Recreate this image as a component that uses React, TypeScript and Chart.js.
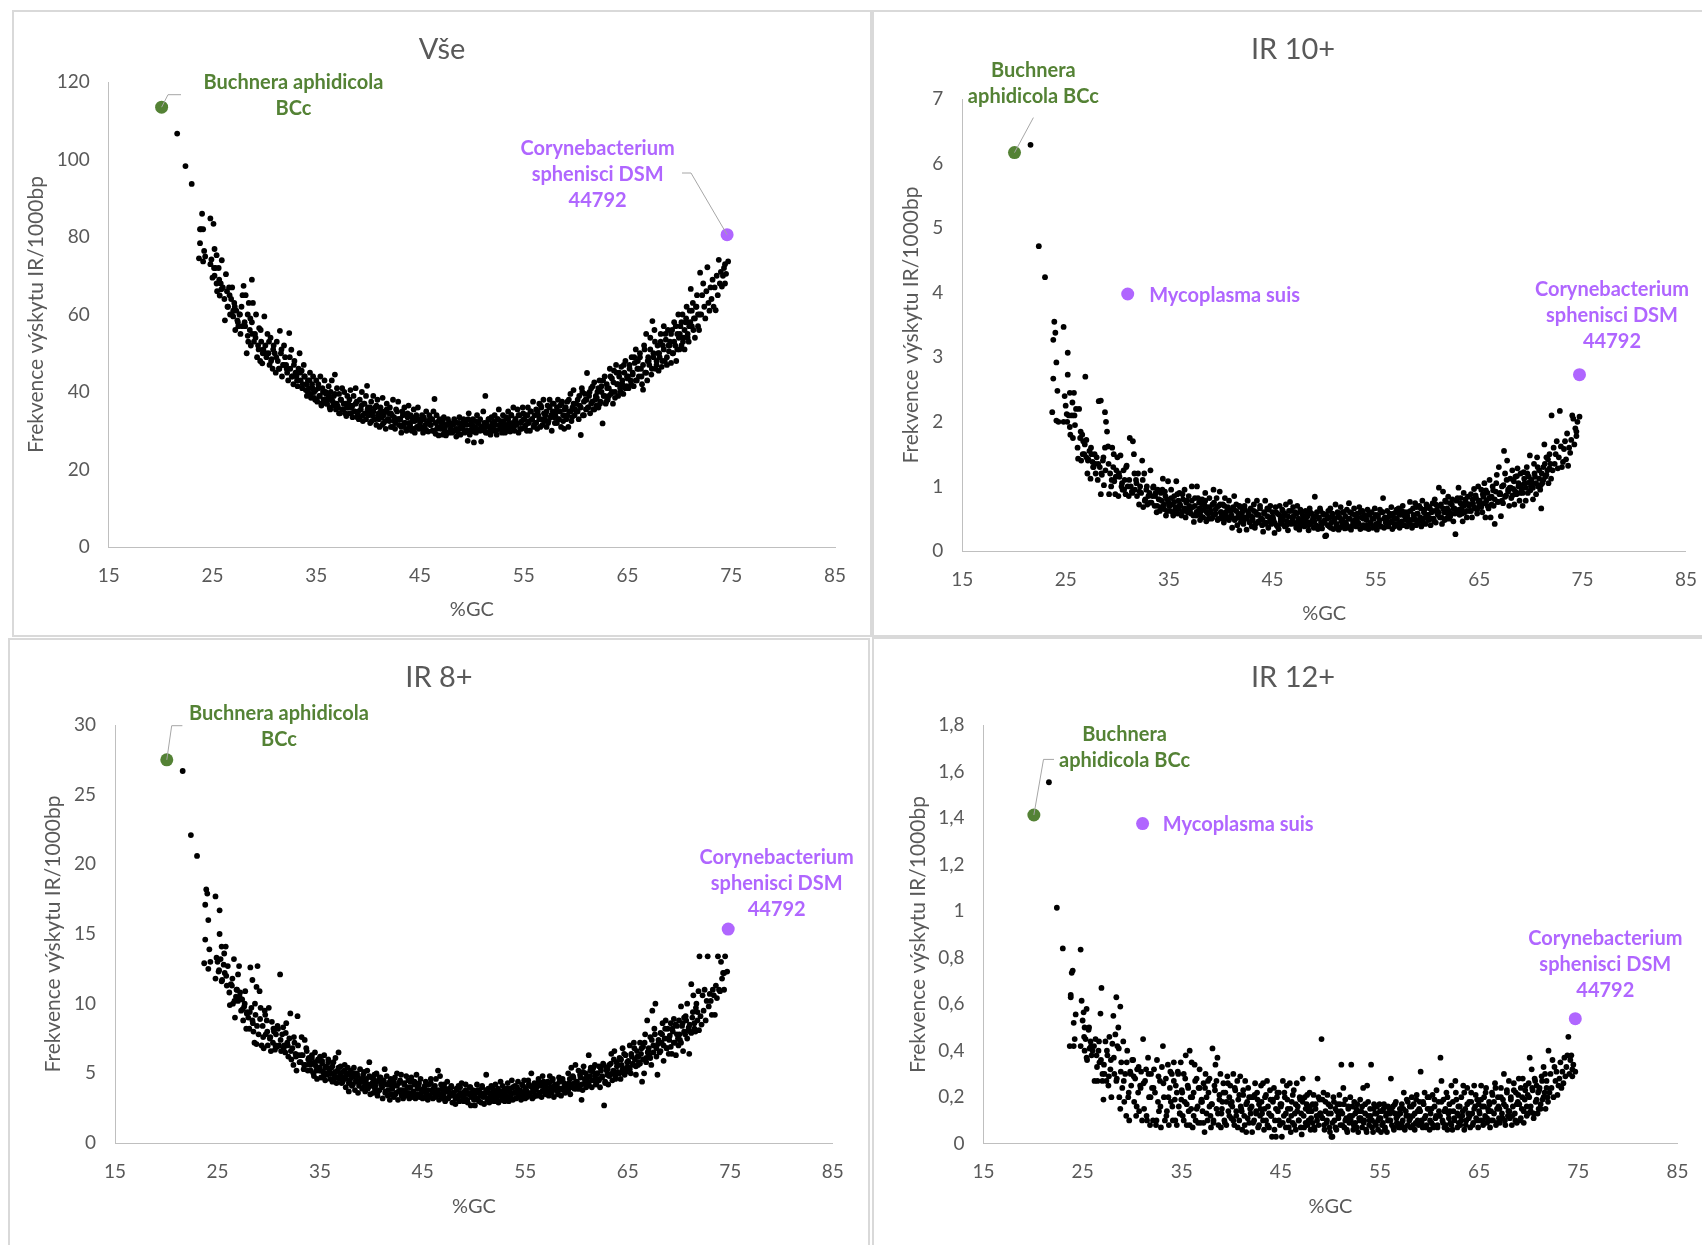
import React, { useEffect, useRef } from "react";
import { Chart, registerables } from "chart.js";

Chart.register(...registerables);

const gc = [
21.6,22.4,23,
23.7,23.8,23.8,23.9,24,24.1,24.1,24.2,24.3,24.8,24.8,24.9,
25,25.1,25.2,25.2,25.3,25.4,25.4,25.6,25.7,25.8,25.9,26,
26.2,26.3,26.4,26.5,26.6,26.7,26.8,26.9,27,27,
27.1,27.2,27.3,27.4,27.5,27.6,27.7,27.8,27.9,28,
28.1,28.2,28.3,28.4,28.4,28.5,28.6,28.7,28.8,28.8,28.9,29,
29.1,29.2,29.3,29.4,29.5,29.6,29.7,29.8,29.9,30,
30.1,30.2,30.3,30.4,30.5,30.6,30.7,30.8,30.9,31,
31.1,31.2,31.3,31.4,31.5,31.6,31.7,31.8,31.9,32,
32.1,32.2,32.3,32.4,32.5,32.6,32.7,32.8,32.9,33,
33.1,33.2,33.3,33.4,33.5,33.6,33.7,33.8,33.9,34,
34.1,34.2,34.3,34.4,34.5,34.6,34.7,34.8,34.9,35,
35.1,35.2,35.3,35.4,35.5,35.6,35.7,35.8,35.9,36,
36.1,36.2,36.3,36.4,36.5,36.6,36.7,36.8,36.9,37,
37.1,37.2,37.3,37.4,37.5,37.6,37.7,37.8,37.9,38,
38.1,38.2,38.3,38.4,38.5,38.6,38.7,38.8,38.9,39,
39.1,39.2,39.3,39.4,39.5,39.6,39.7,39.8,39.9,40,
40.1,40.2,40.3,40.4,40.5,40.6,40.7,40.8,40.9,41,
41.1,41.2,41.3,41.4,41.5,41.6,41.7,41.8,41.9,42,
42.1,42.2,42.3,42.4,42.5,42.6,42.7,42.8,42.9,43,
43.1,43.2,43.3,43.4,43.5,43.6,43.7,43.8,43.9,44,
44.1,44.2,44.3,44.4,44.5,44.6,44.7,44.8,44.9,45,
45.1,45.2,45.3,45.4,45.5,45.6,45.7,45.8,45.9,46,
46.1,46.2,46.3,46.4,46.5,46.6,46.7,46.8,46.9,47,
47.1,47.2,47.3,47.4,47.5,47.6,47.7,47.8,47.9,48,
48.1,48.2,48.3,48.4,48.5,48.6,48.7,48.8,48.9,49,
49.1,49.2,49.3,49.4,49.5,49.6,49.7,49.8,49.9,50,
50.1,50.2,50.3,50.4,50.5,50.6,50.7,50.8,50.9,51,
51.1,51.2,51.3,51.4,51.5,51.6,51.7,51.8,51.9,52,
52.1,52.2,52.3,52.4,52.5,52.6,52.7,52.8,52.9,53,
53.1,53.2,53.3,53.4,53.5,53.6,53.7,53.8,53.9,54,
54.1,54.2,54.3,54.4,54.5,54.6,54.7,54.8,54.9,55,
55.1,55.2,55.3,55.4,55.5,55.6,55.7,55.8,55.9,56,
56.1,56.2,56.3,56.4,56.5,56.6,56.7,56.8,56.9,57,
57.1,57.2,57.3,57.4,57.5,57.6,57.7,57.8,57.9,58,
58.1,58.2,58.3,58.4,58.5,58.6,58.7,58.8,58.9,59,
59.1,59.2,59.3,59.4,59.5,59.6,59.7,59.8,59.9,60,
60.1,60.2,60.3,60.4,60.5,60.6,60.7,60.8,60.9,61,
61.1,61.2,61.3,61.4,61.5,61.6,61.7,61.8,61.9,62,
62.1,62.2,62.3,62.4,62.5,62.6,62.7,62.8,62.9,63,
63.1,63.2,63.3,63.4,63.5,63.6,63.7,63.8,63.9,64,
64.1,64.2,64.3,64.4,64.5,64.6,64.7,64.8,64.9,65,
65.1,65.2,65.3,65.4,65.5,65.6,65.7,65.8,65.9,66,
66.1,66.2,66.3,66.4,66.5,66.6,66.7,66.8,66.9,67,
67.1,67.2,67.3,67.4,67.5,67.6,67.7,67.8,67.9,68,
68.1,68.2,68.3,68.4,68.5,68.6,68.7,68.8,68.9,69,
69.1,69.2,69.3,69.4,69.5,69.6,69.7,69.8,69.9,70,
70.1,70.2,70.3,70.4,70.5,70.6,70.7,70.8,70.9,71,
71.1,71.2,71.3,71.4,71.5,71.6,71.7,71.8,71.9,72,
72.1,72.2,72.3,72.4,72.5,72.6,72.7,72.8,72.9,73,
73.1,73.2,73.3,73.4,73.5,73.6,73.7,73.8,73.9,74,
74.1,74.2,74.3,74.4,74.4,74.5,74.7,
25.15,25.45,25.65,25.85,
26.15,26.45,26.65,26.85,
27.15,27.45,27.65,27.85,
28.15,28.45,28.65,28.85,
29.15,29.45,29.65,29.85,
30.15,30.45,30.65,30.85,
31.15,31.45,31.65,31.85,
32.15,32.45,32.65,32.85,
33.15,33.45,33.65,33.85,
34.05,34.2,34.35,34.5,34.65,34.8,34.95,
35.05,35.2,35.35,35.5,35.65,35.8,35.95,
36.05,36.2,36.35,36.5,36.65,36.8,36.95,
37.05,37.2,37.35,37.5,37.65,37.8,37.95,
38.05,38.2,38.35,38.5,38.65,38.8,38.95,
39.05,39.2,39.35,39.5,39.65,39.8,39.95,
40.05,40.2,40.35,40.5,40.65,40.8,40.95,
41.05,41.2,41.35,41.5,41.65,41.8,41.95,
42.05,42.2,42.35,42.5,42.65,42.8,42.95,
43.05,43.2,43.35,43.5,43.65,43.8,43.95,
44.05,44.2,44.35,44.5,44.65,44.8,44.95,
45.05,45.2,45.35,45.5,45.65,45.8,45.95,
46.05,46.2,46.35,46.5,46.65,46.8,46.95,
47.05,47.2,47.35,47.5,47.65,47.8,47.95,
48.05,48.2,48.35,48.5,48.65,48.8,48.95,
49.05,49.2,49.35,49.5,49.65,49.8,49.95,
50.05,50.2,50.35,50.5,50.65,50.8,50.95,
51.05,51.2,51.35,51.5,51.65,51.8,51.95,
52.05,52.2,52.35,52.5,52.65,52.8,52.95,
53.05,53.2,53.35,53.5,53.65,53.8,53.95,
54.05,54.2,54.35,54.5,54.65,54.8,54.95,
55.05,55.2,55.35,55.5,55.65,55.8,55.95,
56.05,56.2,56.35,56.5,56.65,56.8,56.95,
57.05,57.2,57.35,57.5,57.65,57.8,57.95,
58.05,58.2,58.35,58.5,58.65,58.8,58.95,
59.05,59.2,59.35,59.5,59.65,59.8,59.95,
60.05,60.2,60.35,60.5,60.65,60.8,60.95,
61.05,61.2,61.35,61.5,61.65,61.8,61.95,
62.05,62.2,62.35,62.5,62.65,62.8,62.95,
63.05,63.2,63.35,63.5,63.65,63.8,63.95,
64.05,64.2,64.35,64.5,64.65,64.8,64.95,
65.05,65.2,65.35,65.5,65.65,65.8,65.95,
66.05,66.2,66.35,66.5,66.65,66.8,66.95,
67.05,67.2,67.35,67.5,67.65,67.8,67.95,
68.05,68.2,68.35,68.5,68.65,68.8,68.95,
69.05,69.2,69.35,69.5,69.65,69.8,69.95,
70.05,70.2,70.35,70.5,70.65,70.8,70.95,
71.05,71.2,71.35,71.5,71.65,71.8,71.95,
];

const irAll = [
106.7,98.3,93.7,
74.5,78.4,82,82,86,82,73.7,76.4,75,84.8,73,74.2,
69.5,83.4,76.9,70,72,75.3,68,72,64.9,68,74,67,
58.5,70.4,66,62,67,60,64,67,61,59.5,
63,56,61,58.5,57,60,55,62,65,67.4,
58,65,50,60,54.5,63,56,52,69,58,63,53,
55,60,49,52,56.5,48,53,47.4,51,59.5,
52,49,55,50,47,54,48.5,46,52,50,
45,53,48,46,55.8,50,44,47,52,49,
47,45,43,55.2,46,50.9,44,42,48,45,
44,41.5,46,50,43,45.5,42,47,44,40.5,
39,43,41,45,38.5,42,44,40,38,43,
37.5,42,39,44,36.5,41,38,43,40,37,
38,41.5,36,40,43,37.5,39,44.5,35.5,41,
36,39.5,34.5,38,41,35.5,40,37,33.8,39,
37,34.5,40.5,36,33.5,39,35,41,37.5,34,
33,38,35.5,40,32.5,37,34.5,39,41.6,36,
35,32,37.5,34,39,33,36,31.5,38,34.5,
31,36,33.5,38.5,32,35,30.5,37,33,34.5,
36,31,34,38,32.5,30.5,35.5,33,37.5,31.5,
33,29.5,35,31.5,36,32,30,34.5,36.5,31,
34,30,32.5,35.5,29.5,33,31,36,30.5,32,
31,34,29.5,33,30.5,35,32,29.8,34,31.5,
33,30,35,38.2,29.2,34,31,28.8,33,30.5,
32,29,33.5,30.5,28.8,31.5,33,29.5,32,30,
29.5,31.5,33,30,28.5,32,30.5,33.5,29,31,
31,33,29.5,32,30,27.4,34.5,29,32.5,30.5,
33,27,31,29.5,34,32,30.5,33,27.2,31,
35,30,39,32,29.5,33,31,29,33.5,31.5,
30,34,31.5,29,33,35.5,30.5,32.5,29.5,34,
31,29.5,33.5,30,35,32,29.8,34,31,36,
30,33,31.5,35.5,29.5,34,32,30.5,36,33,
31,34,30,36,32.5,30,35,33,37.5,31.5,
32,35.5,30.5,34,37,31,36,33,38,32.5,
34,31,36.5,32.5,38,33.5,30,35,37,32,
35,32,38,33,36.5,31,37.5,34,30.5,36,
33,37.5,31,35,39.5,32.5,36,40.5,34,37,
35,38,33,36.5,28.9,41,34,37.5,39.5,35.5,
44.9,36,39,34.5,41,37.5,35.5,42.5,38,36.5,
40,36,43,37.5,41.5,31.9,39,44,37,42,
38,41,46,39.5,43.5,37,45.5,40,47,42,
39,44,41,46.5,42,39.5,45,48,41.5,43.5,
41,46,43,49,44.5,41.5,47.5,51,43,48,
44,50,46,42,40.6,52,45,55,43,49,
47,54,44.5,58.3,50,56,46,48,52,45.5,
49,55,46.5,52,57,48,53.5,47,56,50.5,
53,47.5,56,50,58,52,48,55,60,51,
57,52,60,54,51,58,62,55,53,61,
66.6,57,63,59,54,62,65,60,56,70.8,
60,65,68,62,59,66,72.2,63,61,67,
64,69,62,67,61.1,70,65,74.1,68,71,
67.2,70,72,68,73,70.5,73.7,
72,66,69,66.5,
64,62,65,60,
62,58,60,57,
57,53,59,55,
54,51,56,50,
50,53,48,51,
49,46,51,47,
46,49,44,47,
43,45,41,44,
42,40,43,39.5,41,38.5,40.5,
38,41,39,37,40,38,39.5,
37,39,35.5,38,36.5,39.5,37,
36.5,34.5,38,35.5,37,34.5,36,
36,38,34.5,36.5,35,37,33.5,
35,33.5,36.5,34,37,33,35.5,
34,36,32.5,35,33,36.5,34,
33,35,31.5,34,32.5,35.5,33,
32.5,34.5,31,33.5,32,35,33,
33,31,34,32,30.5,33.5,32,
31.5,33.5,30.5,32.5,34,31,33,
32.5,30.5,33.5,31.5,30,32,33,
31.5,33,30,32,30.5,32.5,31,
31,32.5,30,31.5,29.5,32,30.5,
31.5,30,32.5,30.5,29.8,32,31,
30.5,32,29.8,31.5,33,30,31.5,
31.5,29.8,32.5,30.5,32,30,31,
30.5,32,29.5,31,33,30,32,
31,32.5,30,33,31.5,30.5,32,
32.5,30.5,31.5,33,31,34,32,
31,33,32,34,30.5,32.5,34.5,
33,31.5,34,32,35,33,31,
34,32,35,33,36.5,31.5,34.5,
33,35,32,36,34,37,33.5,
34,36,33,35,37,32.5,35.5,
36,34,38,35,33.5,37,35.5,
37,35,39,36,40,34,38,
38,36,40,37,41.5,35.5,39,
38.5,41,37,40,43,39,37.5,
41,39,44,40,42.5,38.5,45,
42,45,40,43,47,41,44,
44,47,42,45,49,43,46,
46,49,44,47,51,45,48,
48,51,46,49,53,47,50,
50,53,48,51,55,49,52,
52,55,50,53,57,51,54,
55,58,53,56,59,54,57,
58,61,56,59,62,57,60,
];

const ir10 = [
6.29,4.72,4.24,
2.15,3.27,2.67,3.55,3.38,2.92,2.02,2.48,2.0,3.47,2.0,2.4,
2.25,2.12,3.07,2.73,2.1,2.45,1.92,2.1,1.75,2.45,1.95,2.2,
1.43,2.2,1.75,1.4,1.8,1.7,1.5,2.7,1.72,1.45,
1.2,1.42,1.55,1.12,1.5,1.38,1.3,1.5,1.2,1.45,
1.1,2.32,1.3,2.33,.88,1.18,1.4,1.02,2.15,1.6,2.0,1.85,
1.62,.88,1.2,1.0,1.6,1.3,1.08,.88,1.25,1.45,
.85,1.15,1.48,1.0,.95,1.25,1.1,.88,1.32,1.0,
.85,1.75,1.0,.92,1.7,1.5,.95,1.1,.85,1.2,
.72,1.0,.9,1.4,.68,1.2,.8,.95,.72,.85,
.9,1.25,.75,.85,1.0,.7,.9,.6,.95,.8,
.62,.9,.78,1.12,.65,.92,.55,.8,1.08,.7,
.62,.95,.72,.55,.85,.65,1.08,.58,.78,.9,
.7,.55,.88,.62,.95,.52,.78,.65,.85,.6,
.58,1.0,.68,.45,.82,.55,1.0,.62,.75,.48,
.62,.8,.52,.72,.9,.46,.68,.58,.82,.6,
.5,.72,.95,.56,.65,.82,.48,.7,.92,.6,
.55,.72,.44,.82,.6,.5,.68,.78,.52,.62,
.36,.65,.85,.5,.72,.4,.58,.32,.68,.5,
.62,.42,.7,.52,.33,.78,.55,.45,.66,.38,
.48,.72,.36,.6,.78,.44,.56,.7,.5,.4,
.3,.58,.78,.44,.66,.36,.52,.7,.42,.6,
.48,.28,.68,.4,.58,.34,.7,.5,.42,.62,
.55,.38,.72,.46,.32,.62,.76,.42,.52,.68,
.44,.6,.36,.7,.5,.33,.64,.42,.56,.48,
.38,.62,.46,.54,.32,.66,.42,.58,.48,.36,
.84,.4,.6,.34,.52,.66,.44,.35,.58,.47,
.23,.24,.5,.62,.38,.66,.44,.56,.34,.5,
.72,.4,.6,.33,.52,.68,.38,.48,.6,.35,
.44,.64,.36,.74,.5,.33,.58,.42,.66,.48,
.38,.58,.44,.68,.34,.52,.62,.4,.56,.36,
.48,.64,.34,.56,.42,.6,.36,.5,.66,.4,
.33,.54,.44,.64,.38,.6,.82,.36,.52,.46,
.62,.38,.54,.44,.68,.34,.58,.42,.5,.64,
.42,.66,.36,.56,.46,.7,.4,.6,.5,.38,
.6,.42,.76,.48,.36,.66,.52,.74,.4,.58,
.44,.7,.52,.38,.78,.5,.64,.42,.72,.56,
.48,.68,.4,.6,.74,.5,.8,.44,.64,.56,
.98,.52,.72,.42,.92,.6,.78,.5,.66,.84,
.5,.74,.58,.8,.46,.66,.26,.62,.82,.98,
.56,.82,.66,.46,.9,.6,.76,.52,.84,.7,
.62,.88,.52,.74,.96,.66,.82,.58,1.0,.7,
.72,.95,.6,.84,1.05,.52,.78,.9,.66,1.1,
.52,.84,1.0,.7,.42,.92,1.18,.76,1.3,.9,
.54,1.0,.74,1.55,1.2,.86,1.4,.95,.7,1.12,
.82,1.25,.96,.72,1.15,.88,1.28,1.05,.78,1.2,
.95,.7,1.22,1.05,.78,1.3,.9,1.15,1.48,1.0,
1.05,.8,1.35,1.15,.88,1.45,1.0,1.25,.95,.66,
1.05,1.3,1.65,1.15,1.45,1.25,1.05,1.5,1.35,2.1,
1.25,1.6,1.35,1.5,1.7,1.28,1.45,2.17,1.62,1.3,
1.38,1.58,1.7,1.42,1.82,1.32,1.6,1.52,1.72,2.1,
2.05,1.65,1.9,1.85,1.78,2.0,2.08,
2.0,1.8,2.3,2.1,
1.6,1.85,1.5,1.65,
1.4,1.6,1.3,1.35,
1.35,1.2,1.45,1.25,
1.35,1.1,1.5,1.15,
1.2,1.05,.95,1.3,
1.1,.9,1.2,1.05,
.92,1.1,.78,1.0,
.75,.98,.85,.7,
.8,.68,.95,.72,.85,.62,.75,
.7,.82,.6,.76,.68,.88,.65,
.72,.58,.8,.66,.75,.6,.7,
.65,.78,.55,.7,.6,.82,.66,
.55,.72,.64,.78,.6,.5,.68,
.62,.52,.75,.58,.68,.5,.72,
.6,.5,.7,.56,.66,.48,.62,
.55,.68,.48,.62,.52,.7,.45,
.58,.46,.64,.5,.6,.44,.54,
.52,.62,.42,.56,.46,.66,.5,
.48,.6,.42,.54,.64,.46,.5,
.52,.44,.6,.38,.56,.46,.64,
.48,.58,.4,.54,.44,.62,.5,
.54,.42,.58,.46,.38,.6,.5,
.5,.42,.56,.4,.6,.46,.52,
.46,.54,.38,.5,.62,.42,.56,
.44,.56,.4,.52,.36,.58,.48,
.5,.42,.56,.36,.46,.6,.44,
.54,.4,.5,.6,.38,.46,.56,
.46,.52,.42,.6,.36,.5,.54,
.52,.4,.58,.44,.5,.38,.56,
.42,.56,.48,.38,.6,.5,.44,
.5,.42,.58,.46,.54,.38,.6,
.5,.58,.44,.62,.4,.54,.48,
.54,.46,.62,.4,.56,.48,.68,
.58,.48,.66,.46,.6,.52,.7,
.56,.66,.5,.62,.46,.72,.58,
.6,.7,.52,.66,.48,.76,.58,
.62,.54,.72,.66,.58,.78,.6,
.64,.74,.58,.7,.8,.62,.72,
.72,.62,.8,.68,.86,.64,.76,
.78,.68,.88,.74,.94,.7,.82,
.82,.72,.94,.8,1.05,.76,.88,
.88,.78,1.02,.84,1.1,.92,.98,
.98,.86,1.08,.92,1.16,1.0,.9,
1.02,.9,1.12,.98,1.2,1.06,.94,
1.1,.98,1.2,1.05,1.3,1.12,1.02,
1.2,1.1,1.35,1.18,1.42,1.28,1.12,
];

const ir8 = [
26.7,22.1,20.6,
12.9,14.6,17.1,18.2,17.9,16,12.5,13.9,13,17.7,11.8,13.3,
13,12.3,16.7,15,13.2,14.1,11.6,12.8,12.2,14.1,11.3,12.7,
9.9,11.4,11.3,10,13.2,9,10.5,11,12.1,10.2,
12.7,10.8,9.5,10.3,8.8,9.8,10.9,8.2,9.4,9,
8.2,12.6,9.7,8.8,11.7,8,7.2,9.2,11.2,7.1,12.7,7.8,
10.9,9.7,7,8.4,6.8,9.5,7.8,8.8,7,9.7,
7.5,6.6,8.7,7.2,8,6.7,7.8,6.9,8.2,7,
12.1,6.6,7.8,8.3,7,6.5,8.6,7.2,6.2,7.5,
9.3,6,6.8,5.6,7.2,6.4,5.2,9.1,6.3,5.8,
5.8,7.6,6.3,5.3,7.4,5.6,6.6,5.2,6.1,5.8,
5.2,6.3,5.7,4.8,6.5,5.5,4.6,5.9,5.2,6.2,
4.7,5.9,5.1,6.3,4.5,5.5,4.9,6,5.3,4.6,
5.4,4.4,5.8,4.8,6.1,4.3,5.2,6.5,4.6,5.5,
4.3,5.1,4.7,5.6,4,4.9,5.4,3.7,4.5,5.2,
4.1,4.8,5.4,3.8,4.5,5,3.6,4.3,5.3,4.6,
3.9,4.6,5.1,3.7,4.3,5.2,4,5.8,3.5,4.7,
4.3,3.6,4.9,4.1,5,3.4,4.5,3.8,4.7,4.2,
3.2,4.4,5.3,3.7,4.8,3.4,4.2,3.1,4.6,3.9,
4.1,3.3,4.7,3.6,5,3.1,4.3,3.8,4.9,3.5,
3.2,4.2,3.7,4.8,3.4,4.5,3.2,4,4.7,3.5,
3.7,4.4,3.2,4.9,3.5,4.1,3.3,4.6,3.8,3.2,
3.9,3.3,4.4,3.6,3.1,4.2,3.4,4.6,3.8,3.2,
4,3.3,4.6,3.6,5.2,3.1,4.8,3.4,3.9,3.2,
4.2,3,3.7,4.4,3.2,3.9,3.4,4.1,2.9,3.6,
3.4,2.8,3.9,3.2,4.1,3,3.6,4.3,3.3,3,
3.7,4.2,3.1,2.9,3.5,4,2.7,3.3,3.8,3.1,
2.7,3.6,4.2,3.1,3.8,3.4,2.9,4.1,3.3,2.8,
3.6,4.9,3.1,3.9,2.9,3.5,4.1,3.2,3.7,3,
4.2,3.3,3.8,2.9,3.6,4.4,3.1,4.1,3.4,3,
3.7,3.2,4.3,3,3.9,3.4,4.5,3.1,3.6,4.1,
3.2,3.9,4.4,3.3,3.7,3.1,4.2,3.5,4.5,3.2,
3.8,3.3,4.5,3.5,4.1,5,3.2,3.7,4.3,3.4,
4,3.4,4.6,3.6,4.3,3.3,4.8,3.8,4.2,3.5,
3.7,4.4,3.4,4.8,4,3.6,4.6,3.3,4.2,3.8,
4.2,3.5,4.7,3.9,3.4,4.5,3.8,4.3,3.6,4,
3.7,5,4.3,3.5,5.4,4,4.7,3.9,5.6,4.4,
4.1,5.2,3.9,4.7,3.1,3.8,5.5,4.3,5,4.5,
4.3,6.3,4.8,5.4,4,5.1,4.5,5.6,4.2,5,
4.6,5.5,4,5.2,4.8,5.7,2.7,4.4,5.4,4.9,
4.2,5.6,4.9,6.4,4.5,5.2,6.6,4.8,5.8,5.1,
5,6.1,4.6,5.6,6.8,5.2,4.9,6.3,5.4,5.8,
5.4,7,5,6.2,5.7,7.2,6,4.9,6.6,5.6,
5.8,7.2,6.4,4.4,6.9,5,7.8,6.1,8.8,6.6,
6.3,7.6,5.6,9.5,7,8.2,10,6.8,4.9,7.4,
6.5,7.9,7.2,8.6,5.9,7.5,8.8,6.8,8.2,6.4,
7.7,8.6,6.4,8,8.9,7.2,6.3,8.4,7.5,8.8,
7.4,9.8,8.4,6.6,9,7.8,8.8,10,8.1,6.4,
8,11.4,9,10.6,8.6,8,10,9.4,10.9,13.4,
9.1,8.5,10.6,9.5,11,8.8,10.2,13.4,9.8,10.7,
10.2,9.2,11,10.6,9.2,11.3,10.4,13.4,11,10.9,
13,11.8,12.2,11,12.2,13.4,12.3,
12.4,11.7,13.6,12,
10.8,11.8,10.2,11,
10.5,9.6,10,9.3,
9.4,8.6,10,8.4,
8.9,7.6,9.2,8,
7.6,8.2,7,8.4,
7.4,6.8,7.9,7,
6.6,7.6,6.2,7,
6.3,5.6,6.8,6,
5.6,6.1,5,5.8,5.2,6,5.4,
5.2,5.7,4.8,5.4,5,5.8,5.1,
5,5.5,4.6,5.1,4.7,5.4,4.9,
4.8,4.4,5.2,4.6,5,4.3,4.9,
4.7,4.2,5,4.4,4.8,4.1,4.5,
4.4,4.9,4.1,4.6,3.9,4.8,4.2,
4.1,4.6,3.9,4.4,3.7,4.7,4.2,
4,4.5,3.6,4.2,3.8,4.4,3.5,
3.9,4.4,3.5,4.1,3.7,4.5,3.4,
3.8,4.3,3.5,4,3.6,4.4,3.3,
3.6,4.2,3.4,3.9,4.3,3.5,3.8,
3.7,4.1,3.5,3.8,3.3,4.3,3.6,
3.7,4.1,3.4,3.8,3.5,4.2,3.6,
3.5,3.9,3.2,3.7,3.4,4,3.6,
3.6,3.2,3.8,3.4,4,3.5,3.1,
3.4,3.8,3.1,3.6,4,3.3,3.5,
3.5,3.2,3.8,3,3.6,4,3.4,
3.4,3.8,3.2,3.6,3,4,3.5,
3.5,3.2,3.9,3.4,3.7,3.1,3.8,
3.5,3.9,3.3,3.7,3.2,4,3.6,
3.6,4,3.4,3.8,3.3,4.1,3.7,
3.9,3.5,4.2,3.6,4,3.3,3.8,
3.9,4.3,3.6,4.1,3.7,4.4,4,
4,3.6,4.3,3.8,4.5,3.9,4.1,
4.1,3.7,4.4,3.9,4.6,4,3.8,
4.2,3.8,4.6,4.1,4.8,4.3,3.9,
4.4,3.9,4.9,4.2,5.1,4.6,4,
4.7,4.2,5.2,4.5,5.4,4.8,4.3,
5,4.5,5.4,4.7,5.6,4.3,5.2,
5.3,4.8,5.7,5,6,4.6,5.5,
5.6,5,6,5.3,6.4,5.1,5.8,
5.9,5.3,6.4,5.6,6.8,5.5,6.2,
6.2,5.7,6.8,6,7.2,5.8,6.5,
6.8,6.1,7.4,6.5,7.8,6.2,7.1,
7.2,6.6,7.8,7,8.2,6.8,7.5,
7.4,6.9,8.2,7.2,8.5,7.8,7,
7.8,7.2,8.6,8,9.1,7.5,8.3,
8.5,7.9,9.4,8.2,9.7,8.8,8.1,
];

const ir12 = [
1.555,1.015,.84,
.42,.64,.63,.735,.745,.42,.52,.45,.556,.835,.42,.615,
.53,.565,.4,.5,.45,.58,.37,.49,.41,.44,.38,.4,
.27,.45,.38,.27,.4,.35,.56,.67,.3,.27,
.19,.3,.44,.27,.38,.25,.46,.32,.2,.43,
.55,.3,.47,.63,.27,.42,.5,.2,.59,.15,.35,.24,
.44,.18,.3,.12,.4,.2,.1,.31,.25,.36,
.36,.18,.28,.12,.32,.22,.14,.25,.31,.1,
.45,.15,.27,.32,.1,.37,.2,.08,.3,.24,
.1,.32,.22,.08,.36,.18,.14,.27,.07,.33,
.42,.2,.1,.28,.14,.34,.08,.24,.18,.3,
.1,.35,.19,.25,.08,.31,.16,.13,.35,.23,
.12,.3,.18,.38,.08,.25,.14,.4,.2,.35,
.07,.22,.34,.1,.28,.16,.24,.32,.09,.19,
.14,.26,.05,.3,.2,.1,.22,.28,.12,.17,
.41,.09,.25,.34,.15,.37,.08,.21,.3,.13,
.18,.26,.1,.22,.08,.29,.14,.2,.25,.11,
.16,.3,.08,.23,.12,.27,.19,.1,.29,.15,
.06,.21,.12,.27,.05,.18,.24,.09,.15,.2,
.05,.2,.1,.26,.14,.22,.07,.17,.12,.25,
.13,.26,.06,.2,.1,.27,.16,.07,.23,.12,
.03,.18,.24,.1,.03,.2,.14,.22,.08,.16,
.03,.27,.12,.2,.07,.25,.15,.1,.26,.05,
.18,.09,.23,.13,.06,.26,.16,.1,.2,.07,
.04,.28,.12,.2,.09,.17,.08,.14,.22,.06,
.14,.09,.21,.06,.17,.12,.28,.08,.19,.13,
.45,.11,.22,.06,.18,.09,.21,.13,.07,.16,
.03,.03,.2,.1,.15,.06,.17,.12,.21,.08,
.34,.13,.24,.07,.19,.11,.05,.16,.09,.2,
.34,.12,.06,.18,.09,.15,.17,.05,.11,.19,
.14,.07,.24,.1,.17,.06,.25,.12,.08,.15,
.34,.1,.05,.17,.13,.08,.16,.06,.11,.14,
.05,.14,.09,.17,.07,.12,.05,.16,.1,.13,
.28,.08,.16,.06,.13,.18,.09,.12,.07,.15,
.07,.17,.1,.22,.06,.14,.19,.08,.12,.16,
.07,.2,.12,.17,.06,.09,.21,.14,.08,.18,
.31,.1,.07,.17,.22,.12,.08,.2,.15,.06,
.13,.09,.21,.07,.16,.11,.23,.08,.18,.12,
.37,.27,.1,.19,.07,.15,.22,.06,.13,.17,
.09,.25,.06,.14,.11,.27,.19,.07,.16,.12,
.08,.2,.12,.25,.06,.15,.1,.24,.13,.18,
.07,.22,.13,.09,.25,.16,.11,.19,.07,.14,
.1,.25,.16,.08,.2,.12,.24,.09,.15,.18,
.07,.14,.22,.1,.18,.26,.08,.15,.2,.11,
.09,.24,.13,.19,.3,.1,.16,.22,.12,.27,
.11,.2,.08,.16,.26,.13,.22,.09,.18,.28,
.1,.24,.15,.28,.09,.19,.25,.12,.21,.26,
.37,.14,.32,.23,.11,.28,.18,.25,.13,.15,
.24,.15,.29,.19,.33,.22,.15,.27,.2,.4,
.22,.3,.24,.36,.2,.33,.27,.31,.21,.25,
.28,.35,.24,.31,.26,.37,.29,.33,.38,.46,
.3,.36,.38,.32,.29,.34,.31,
.46,.36,.5,.42,
.42,.33,.44,.36,
.34,.4,.29,.36,
.37,.28,.41,.31,
.27,.35,.22,.3,
.29,.16,.33,.24,
.26,.12,.3,.2,
.24,.1,.29,.16,
.26,.12,.2,.31,
.16,.27,.1,.22,.3,.13,.19,
.22,.1,.28,.17,.24,.08,.15,
.2,.12,.27,.15,.09,.24,.18,
.18,.09,.24,.13,.27,.16,.07,
.17,.1,.23,.27,.13,.19,.07,
.15,.22,.09,.18,.26,.12,.17,
.18,.1,.24,.14,.07,.21,.16,
.14,.23,.08,.17,.11,.2,.13,
.16,.09,.21,.13,.19,.08,.15,
.18,.1,.15,.21,.08,.13,.19,
.12,.19,.06,.15,.22,.1,.17,
.17,.09,.22,.13,.19,.07,.15,
.12,.21,.08,.17,.14,.1,.19,
.13,.18,.07,.15,.21,.1,.16,
.11,.17,.07,.15,.1,.2,.13,
.12,.19,.08,.14,.1,.17,.05,
.13,.09,.18,.07,.14,.11,.17,
.14,.08,.17,.1,.06,.15,.12,
.1,.16,.08,.13,.07,.14,.1,
.11,.16,.09,.13,.05,.18,.1,
.12,.07,.15,.09,.13,.1,.17,
.11,.08,.15,.06,.13,.1,.15,
.1,.14,.07,.17,.11,.08,.13,
.13,.09,.15,.07,.12,.18,.1,
.11,.16,.08,.13,.19,.1,.15,
.14,.09,.18,.11,.07,.15,.2,
.1,.15,.08,.19,.12,.07,.14,
.12,.18,.09,.14,.08,.2,.11,
.14,.08,.18,.1,.22,.13,.09,
.16,.1,.14,.22,.08,.17,.11,
.12,.18,.08,.15,.21,.1,.17,
.13,.19,.1,.16,.22,.11,.14,
.17,.1,.21,.13,.24,.09,.16,
.15,.2,.11,.17,.08,.23,.14,
.14,.19,.12,.23,.1,.17,.21,
.17,.11,.2,.14,.23,.16,.13,
.2,.16,.24,.13,.27,.19,.22,
.23,.17,.27,.2,.3,.24,.18,
];

const GREEN = "#548235";
const PURPLE = "#b066ff";
const FONT = "Lato";
const yTitle = "Frekvence výskytu IR/1000bp";
const xTitle = "%GC";
const buchnera = "Buchnera aphidicola BCc";
const mycoplasma = "Mycoplasma suis";
const coryne = "Corynebacterium sphenisci DSM 44792";

type Note = { name: string; x: number; y: number; color: string; lines: string[]; cx: number; cy: number; leader?: [number, number][] };
type Panel = {
  title: string; values: number[]; yMax: number; yStep: number;
  box: [number, number, number, number]; plot: [number, number, number, number];
  titleTop: number; yTitlePad: number; xTitlePad: number; notes: Note[];
};

const panels: Panel[] = [
  {
    title: "Vše", values: irAll, yMax: 120, yStep: 20,
    box: [12, 10, 860, 627], plot: [108.7, 835, 82, 547], titleTop: 22, yTitlePad: 12, xTitlePad: 15,
    notes: [
      { name: buchnera, x: 20.1, y: 113.5, color: GREEN, lines: ["Buchnera aphidicola", "BCc"], cx: 293.5, cy: 82.4, leader: [[168, 94.7], [181, 94.7]] },
      { name: coryne, x: 74.6, y: 80.6, color: PURPLE, lines: ["Corynebacterium", "sphenisci DSM", "44792"], cx: 597.6, cy: 149, leader: [[691, 173], [682, 173]] },
    ],
  },
  {
    title: "IR 10+", values: ir10, yMax: 7, yStep: 1,
    box: [872, 10, 842, 627], plot: [962.3, 1689.6, 99, 551], titleTop: 22, yTitlePad: 26.5, xTitlePad: 11.5,
    notes: [
      { name: buchnera, x: 20.05, y: 6.17, color: GREEN, lines: ["Buchnera", "aphidicola BCc"], cx: 1033.4, cy: 71, leader: [[1033.4, 117.6]] },
      { name: mycoplasma, x: 31, y: 3.98, color: PURPLE, lines: ["Mycoplasma suis"], cx: 1224.6, cy: 295.5 },
      { name: coryne, x: 74.7, y: 2.73, color: PURPLE, lines: ["Corynebacterium", "sphenisci DSM", "44792"], cx: 1612, cy: 290 },
    ],
  },
  {
    title: "IR 8+", values: ir8, yMax: 30, yStep: 5,
    box: [8, 638, 862, 612], plot: [115, 832.8, 725, 1143], titleTop: 22, yTitlePad: 32.5, xTitlePad: 31.5,
    notes: [
      { name: buchnera, x: 20.05, y: 27.5, color: GREEN, lines: ["Buchnera aphidicola", "BCc"], cx: 279, cy: 714, leader: [[171.7, 725.7], [182.4, 725.7]] },
      { name: coryne, x: 74.8, y: 15.35, color: PURPLE, lines: ["Corynebacterium", "sphenisci DSM", "44792"], cx: 776.7, cy: 857.5 },
    ],
  },
  {
    title: "IR 12+", values: ir12, yMax: 1.8, yStep: 0.2,
    box: [872, 637, 842, 613], plot: [983.5, 1677.4, 725.3, 1143.7], titleTop: 23, yTitlePad: 33.5, xTitlePad: 31.5,
    notes: [
      { name: buchnera, x: 20.08, y: 1.414, color: GREEN, lines: ["Buchnera", "aphidicola BCc"], cx: 1124.6, cy: 734.7, leader: [[1043.5, 759.4], [1054, 759.4]] },
      { name: mycoplasma, x: 31.05, y: 1.377, color: PURPLE, lines: ["Mycoplasma suis"], cx: 1238.2, cy: 824.9 },
      { name: coryne, x: 74.7, y: 0.538, color: PURPLE, lines: ["Corynebacterium", "sphenisci DSM", "44792"], cx: 1605.3, cy: 939 },
    ],
  },
];

function PanelChart({ panel }: { panel: Panel }) {
  const ref = useRef<HTMLCanvasElement | null>(null);
  const [bx, by, bw, bh] = panel.box;
  useEffect(() => {
    const [pl, pr, pt, pb] = panel.plot;
    const titleFont = 29;
    const titleBottom = pt - by - panel.titleTop - titleFont * 1.2;
    const notePlugin = {
      id: "notes",
      afterLayout(chart: any) {
        chart.titleBlock.left = 0;
        chart.titleBlock.right = chart.width;
      },
      afterDatasetsDraw(chart: any) {
        const ctx = chart.ctx;
        ctx.save();
        panel.notes.forEach((n) => {
          const px = chart.scales.x.getPixelForValue(n.x);
          const py = chart.scales.y.getPixelForValue(n.y);
          if (n.leader) {
            ctx.strokeStyle = "#a6a6a6";
            ctx.lineWidth = 1;
            ctx.beginPath();
            ctx.moveTo(px, py);
            n.leader.forEach(([lx, ly]) => ctx.lineTo(lx - bx, ly - by));
            ctx.stroke();
          }
          ctx.fillStyle = n.color;
          ctx.font = `bold 20px ${FONT}`;
          ctx.textAlign = "center";
          ctx.textBaseline = "middle";
          n.lines.forEach((t, i) => ctx.fillText(t, n.cx - bx, n.cy - by + i * 25.8));
        });
        ctx.restore();
      },
    };
    const chart = new Chart(ref.current as HTMLCanvasElement, {
      type: "scatter",
      data: {
        datasets: [
          ...panel.notes.map((n) => ({
            label: n.name,
            data: [{ x: n.x, y: n.y }],
            backgroundColor: n.color,
            borderWidth: 0,
            pointRadius: 6.5,
            order: 0,
          })),
          {
            label: "IR/1000bp",
            data: gc.map((x, i) => ({ x, y: panel.values[i] })),
            backgroundColor: "#000000",
            borderWidth: 0,
            pointRadius: 2.9,
            order: 1,
          },
        ],
      },
      options: {
        animation: false,
        responsive: false,
        devicePixelRatio: 1,
        layout: { padding: { left: 0, top: 0, right: bx + bw - pr, bottom: 0 } },
        plugins: {
          legend: { display: false },
          tooltip: { enabled: false },
          title: {
            display: true,
            text: panel.title,
            color: "#595959",
            font: { family: FONT, size: titleFont, weight: "normal", lineHeight: 1.2 },
            padding: { top: panel.titleTop, bottom: titleBottom },
          },
        },
        scales: {
          x: {
            type: "linear",
            min: 15,
            max: 85,
            afterFit: (s: any) => { s.height = by + bh - pb; },
            ticks: { stepSize: 10, color: "#595959", padding: 17, maxRotation: 0, font: { family: FONT, size: 19 } },
            grid: { display: false, drawTicks: false },
            border: { color: "#bfbfbf", width: 1 },
            title: { display: true, text: xTitle, color: "#595959", font: { family: FONT, size: 20 }, padding: { top: 0, bottom: panel.xTitlePad } },
          },
          y: {
            type: "linear",
            min: 0,
            max: panel.yMax,
            afterFit: (s: any) => { s.width = pl - bx; },
            ticks: {
              stepSize: panel.yStep,
              color: "#595959",
              padding: 19,
              font: { family: FONT, size: 19 },
              callback: (v: any) => String(Math.round(Number(v) * 10) / 10).replace(".", ","),
            },
            grid: { display: false, drawTicks: false },
            border: { color: "#bfbfbf", width: 1 },
            title: { display: true, text: yTitle, color: "#595959", font: { family: FONT, size: 21 }, padding: { top: panel.yTitlePad, bottom: 0 } },
          },
        },
      } as any,
      plugins: [notePlugin],
    } as any);
    return () => chart.destroy();
  }, [panel]);
  return (
    <div style={{ position: "absolute", left: bx, top: by, width: bw, height: bh, background: "#fff" }}>
      <canvas ref={ref} width={bw} height={bh} style={{ display: "block" }} />
      <div style={{ position: "absolute", inset: 0, border: "2px solid #d9d9d9", boxSizing: "border-box", pointerEvents: "none" }} />
    </div>
  );
}

export default function App() {
  return (
    <div style={{ position: "fixed", left: 0, top: 0, width: 1702, height: 1245, overflow: "hidden", background: "#fff" }}>
      {panels.map((p) => <PanelChart key={p.title} panel={p} />)}
    </div>
  );
}
